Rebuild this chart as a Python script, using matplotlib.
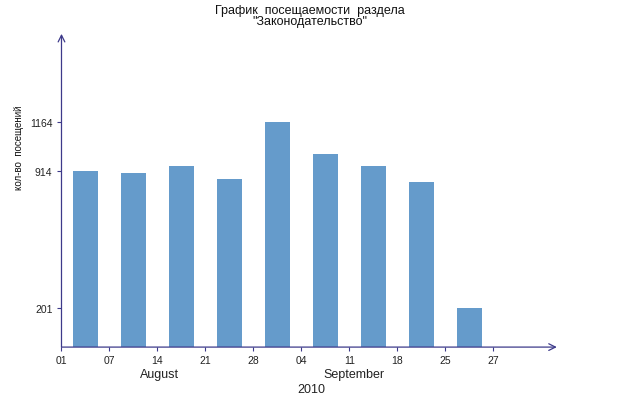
import matplotlib
matplotlib.use("Agg")
import matplotlib.pyplot as plt

# visits per week
visits = [913, 901, 938, 870, 1164, 1000, 939, 856, 201]
tick_labels = ["01", "07", "14", "21", "28", "04", "11", "18", "25", "27"]
ytick_values = [201, 914, 1164]
month_labels = ["August", "September"]
month_pos = [2.05, 6.1]
year_label = "2010"

axis_col = "#3d3a8a"
bar_col = "#659bcb"
plt.rcParams["font.family"] = ["Liberation Sans", "DejaVu Sans"]

fig = plt.figure(figsize=(6.18, 4.10), dpi=100)
ax = fig.add_axes([0.0995, 0.151, 0.8015, 0.764])

xs = [i + 0.5 for i in range(len(visits))]
ax.bar(xs, visits, width=0.52, color=bar_col, zorder=2)

ax.set_xlim(0, 10.32)
ax.set_ylim(0, 1622)
ax.set_xticks(range(len(tick_labels)))
ax.set_xticklabels(tick_labels)
ax.set_yticks(ytick_values)
ax.set_yticklabels([str(v) for v in ytick_values])
ax.tick_params(axis="both", colors=axis_col, labelcolor="#222222",
               labelsize=7.5, length=3, width=0.8)
ax.tick_params(axis="x", pad=2.5)

for s in ax.spines.values():
    s.set_visible(False)

# axes with open arrow heads
ax.annotate("", xy=(0, 1), xytext=(0, 0), xycoords="axes fraction",
            arrowprops=dict(arrowstyle="->", color=axis_col, lw=0.9,
                            shrinkA=0, shrinkB=0, mutation_scale=12))
ax.annotate("", xy=(1, 0), xytext=(0, 0), xycoords="axes fraction",
            arrowprops=dict(arrowstyle="->", color=axis_col, lw=0.9,
                            shrinkA=0, shrinkB=0, mutation_scale=12))

for lbl, pos in zip(month_labels, month_pos):
    ax.text(pos, -0.085, lbl, transform=ax.get_xaxis_transform(),
            ha="center", va="center", fontsize=9, color="#222222")
ax.text(5.2, -0.135, year_label, transform=ax.get_xaxis_transform(),
        ha="center", va="center", fontsize=9, color="#222222")

ax.set_ylabel("кол-во  посещений", fontsize=7, color="#111111")
ax.yaxis.set_label_coords(-0.076, 0.64)

fig.text(0.502, 0.960, "График  посещаемости  раздела\n\"Законодательство\"",
         ha="center", va="center", fontsize=9, color="#111111",
         linespacing=0.95)

fig.savefig("out.png", dpi=100)
